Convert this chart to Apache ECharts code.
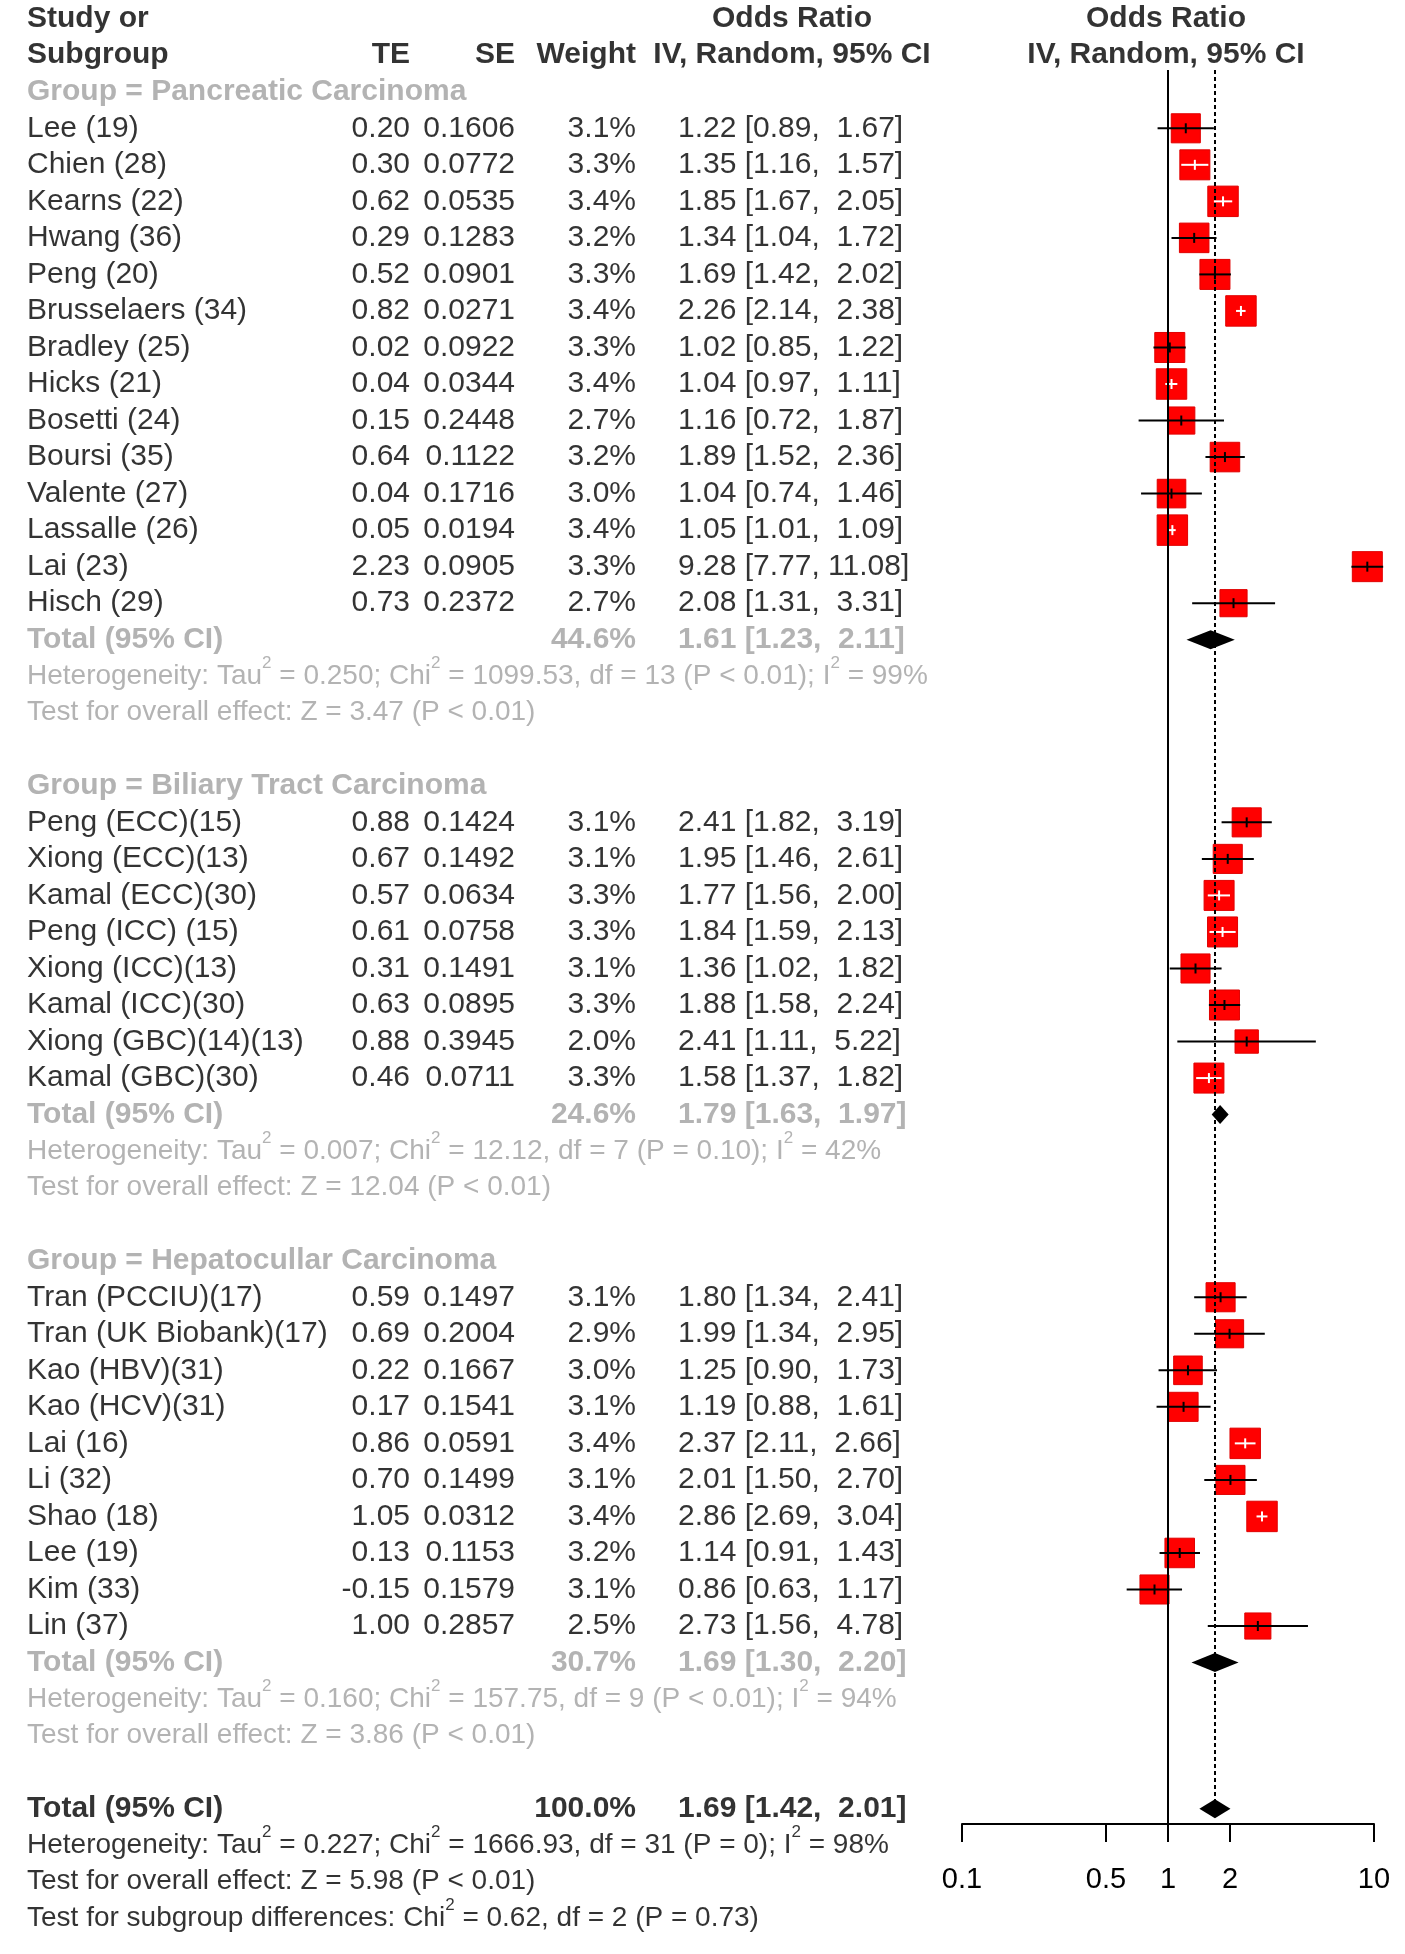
<!DOCTYPE html>
<html><head><meta charset="utf-8">
<script src="https://cdn.jsdelivr.net/npm/echarts@6/dist/echarts.min.js"></script>
<style>html,body{margin:0;padding:0;background:#fff}#c{width:1405px;height:1954px}</style>
</head><body><div id="c"></div>
<script>
// ---------------- data ----------------
const panNames = ['Lee (19)','Chien (28)','Kearns (22)','Hwang (36)','Peng (20)','Brusselaers (34)','Bradley (25)','Hicks (21)','Bosetti (24)','Boursi (35)','Valente (27)','Lassalle (26)','Lai (23)','Hisch (29)'];
const panTE = [0.20,0.30,0.62,0.29,0.52,0.82,0.02,0.04,0.15,0.64,0.04,0.05,2.23,0.73];
const panSE = [0.1606,0.0772,0.0535,0.1283,0.0901,0.0271,0.0922,0.0344,0.2448,0.1122,0.1716,0.0194,0.0905,0.2372];
const panW  = [3.1,3.3,3.4,3.2,3.3,3.4,3.3,3.4,2.7,3.2,3.0,3.4,3.3,2.7];
const panOR = [1.22,1.35,1.85,1.34,1.69,2.26,1.02,1.04,1.16,1.89,1.04,1.05,9.28,2.08];
const panLo = [0.89,1.16,1.67,1.04,1.42,2.14,0.85,0.97,0.72,1.52,0.74,1.01,7.77,1.31];
const panHi = [1.67,1.57,2.05,1.72,2.02,2.38,1.22,1.11,1.87,2.36,1.46,1.09,11.08,3.31];

const bilNames = ['Peng (ECC)(15)','Xiong (ECC)(13)','Kamal (ECC)(30)','Peng (ICC) (15)','Xiong (ICC)(13)','Kamal (ICC)(30)','Xiong (GBC)(14)(13)','Kamal (GBC)(30)'];
const bilTE = [0.88,0.67,0.57,0.61,0.31,0.63,0.88,0.46];
const bilSE = [0.1424,0.1492,0.0634,0.0758,0.1491,0.0895,0.3945,0.0711];
const bilW  = [3.1,3.1,3.3,3.3,3.1,3.3,2.0,3.3];
const bilOR = [2.41,1.95,1.77,1.84,1.36,1.88,2.41,1.58];
const bilLo = [1.82,1.46,1.56,1.59,1.02,1.58,1.11,1.37];
const bilHi = [3.19,2.61,2.00,2.13,1.82,2.24,5.22,1.82];

const hepNames = ['Tran (PCCIU)(17)','Tran (UK Biobank)(17)','Kao (HBV)(31)','Kao (HCV)(31)','Lai (16)','Li (32)','Shao (18)','Lee (19)','Kim (33)','Lin (37)'];
const hepTE = [0.59,0.69,0.22,0.17,0.86,0.70,1.05,0.13,-0.15,1.00];
const hepSE = [0.1497,0.2004,0.1667,0.1541,0.0591,0.1499,0.0312,0.1153,0.1579,0.2857];
const hepW  = [3.1,2.9,3.0,3.1,3.4,3.1,3.4,3.2,3.1,2.5];
const hepOR = [1.80,1.99,1.25,1.19,2.37,2.01,2.86,1.14,0.86,2.73];
const hepLo = [1.34,1.34,0.90,0.88,2.11,1.50,2.69,0.91,0.63,1.56];
const hepHi = [2.41,2.95,1.73,1.61,2.66,2.70,3.04,1.43,1.17,4.78];

const groupLabels = ['Group = Pancreatic Carcinoma','Group = Biliary Tract Carcinoma','Group = Hepatocullar Carcinoma'];
const groupW   = [44.6,24.6,30.7];
const groupOR  = [1.61,1.79,1.69];
const groupLo  = [1.23,1.63,1.30];
const groupHi  = [2.11,1.97,2.20];
const groupTau2 = ['0.250','0.007','0.160'];
const groupChi2 = ['1099.53','12.12','157.75'];
const groupDf   = [13,7,9];
const groupHetP = ['P < 0.01','P = 0.10','P < 0.01'];
const groupI2   = ['99%','42%','94%'];
const groupZ    = ['3.47','12.04','3.86'];
const groupZP   = ['P < 0.01','P < 0.01','P < 0.01'];

const totalW = 100.0, totalOR = 1.69, totalLo = 1.42, totalHi = 2.01;
const totalTau2 = '0.227', totalChi2 = '1666.93', totalDf = 31, totalHetP = 'P = 0', totalI2 = '98%';
const totalZ = '5.98', totalZP = 'P < 0.01';
const subChi2 = '0.62', subDf = 2, subP = 'P = 0.73';

const xTicks = [0.1, 0.5, 1, 2, 10];

// ---------------- layout ----------------
const ROW0 = 18.7, ROWH = 36.53, NROWS = 53;
const PLOT_LEFT = 962, PLOT_W = 412, PLOT_TOP = 70, PLOT_BOTTOM = 1824;
const COL = {study: 27, te: 410, se: 515, w: 636, or: 678, orHead: 792, plotHead: 1166};
const SQ = 30, DH = 19;
const FONT = '"Liberation Sans", Arial, sans-serif';
const GRAY = '#a0a0a0';

const STY = {
  normal:   {color: '#000', fontSize: 30, fontWeight: 'normal'},
  bold:     {color: '#000', fontSize: 30, fontWeight: 'bold'},
  grayBold: {color: GRAY,   fontSize: 30, fontWeight: 'bold'},
  grayHet:  {color: GRAY,   fontSize: 28, fontWeight: 'normal', lineHeight: 42},
  het:      {color: '#000', fontSize: 28, fontWeight: 'normal', lineHeight: 42}
};

const fmtCI = (o, l, h) => o.toFixed(2) + ' [' + l.toFixed(2) + ', ' + h.toFixed(2).padStart(5, ' ') + ']';
const hetStr = (t, c, d, p, i) => 'Heterogeneity: Tau{s|2} = ' + t + '; Chi{s|2} = ' + c + ', df = ' + d + ' (' + p + '); I{s|2} = ' + i;

const texts = [];
const studyPts = [];
const diamondPts = [];
const T = (x, row, text, align, style) => texts.push({x, row, text, align, style});

// header
T(COL.study, 0, 'Study or', 'left', 'bold');
T(COL.orHead, 0, 'Odds Ratio', 'center', 'bold');
T(COL.plotHead, 0, 'Odds Ratio', 'center', 'bold');
T(COL.study, 1, 'Subgroup', 'left', 'bold');
T(COL.te, 1, 'TE', 'right', 'bold');
T(COL.se, 1, 'SE', 'right', 'bold');
T(COL.w, 1, 'Weight', 'right', 'bold');
T(COL.orHead, 1, 'IV, Random, 95% CI', 'center', 'bold');
T(COL.plotHead, 1, 'IV, Random, 95% CI', 'center', 'bold');

const groups = [
  [panNames, panTE, panSE, panW, panOR, panLo, panHi],
  [bilNames, bilTE, bilSE, bilW, bilOR, bilLo, bilHi],
  [hepNames, hepTE, hepSE, hepW, hepOR, hepLo, hepHi]
];
let row = 2;
groups.forEach((g, gi) => {
  T(COL.study, row, groupLabels[gi], 'left', 'grayBold'); row++;
  g[0].forEach((name, i) => {
    T(COL.study, row, name, 'left', 'normal');
    T(COL.te, row, g[1][i].toFixed(2), 'right', 'normal');
    T(COL.se, row, g[2][i].toFixed(4), 'right', 'normal');
    T(COL.w, row, g[3][i].toFixed(1) + '%', 'right', 'normal');
    T(COL.or, row, fmtCI(g[4][i], g[5][i], g[6][i]), 'left', 'normal');
    studyPts.push([g[4][i], row, g[5][i], g[6][i], g[3][i]]);
    row++;
  });
  T(COL.study, row, 'Total (95% CI)', 'left', 'grayBold');
  T(COL.w, row, groupW[gi].toFixed(1) + '%', 'right', 'grayBold');
  T(COL.or, row, fmtCI(groupOR[gi], groupLo[gi], groupHi[gi]), 'left', 'grayBold');
  diamondPts.push([groupOR[gi], row, groupLo[gi], groupHi[gi]]);
  row++;
  T(COL.study, row, hetStr(groupTau2[gi], groupChi2[gi], groupDf[gi], groupHetP[gi], groupI2[gi]), 'left', 'grayHet'); row++;
  T(COL.study, row, 'Test for overall effect: Z = ' + groupZ[gi] + ' (' + groupZP[gi] + ')', 'left', 'grayHet'); row++;
  row++;
});
const overallRow = row;
T(COL.study, row, 'Total (95% CI)', 'left', 'bold');
T(COL.w, row, totalW.toFixed(1) + '%', 'right', 'bold');
T(COL.or, row, fmtCI(totalOR, totalLo, totalHi), 'left', 'bold');
diamondPts.push([totalOR, row, totalLo, totalHi]);
row++;
T(COL.study, row, hetStr(totalTau2, totalChi2, totalDf, totalHetP, totalI2), 'left', 'het'); row++;
T(COL.study, row, 'Test for overall effect: Z = ' + totalZ + ' (' + totalZP + ')', 'left', 'het'); row++;
T(COL.study, row, 'Test for subgroup differences: Chi{s|2} = ' + subChi2 + ', df = ' + subDf + ' (' + subP + ')', 'left', 'het');

// ---------------- chart ----------------
const chart = echarts.init(document.getElementById('c'), null, {renderer: 'canvas'});

const textData = texts.map(t => {
  const st = STY[t.style];
  const pos = t.align === 'left' ? 'right' : (t.align === 'right' ? 'left' : 'inside');
  const lbl = {
    show: true, formatter: t.text, position: pos, distance: 0,
    align: t.align, verticalAlign: 'middle',
    color: st.color, fontSize: st.fontSize, fontWeight: st.fontWeight, fontFamily: FONT,
    rich: {s: {fontSize: Math.round(st.fontSize * 0.62), verticalAlign: 'top', lineHeight: 12,
               color: st.color, fontFamily: FONT, fontWeight: st.fontWeight}}
  };
  if (st.lineHeight) lbl.lineHeight = st.lineHeight;
  return {value: [t.x, t.row], label: lbl};
});

const yMin1 = (PLOT_TOP - ROW0) / ROWH;
const yMax1 = (PLOT_BOTTOM - ROW0) / ROWH;

const option = {
  animation: false,
  backgroundColor: '#fff',
  grid: [
    {left: 0, top: ROW0 - ROWH / 2, width: 1405, height: NROWS * ROWH},
    {left: PLOT_LEFT, top: PLOT_TOP, width: PLOT_W, height: PLOT_BOTTOM - PLOT_TOP}
  ],
  xAxis: [
    {gridIndex: 0, type: 'value', min: 0, max: 1405, show: false},
    {gridIndex: 1, type: 'log', logBase: 10, min: 0.1, max: 10, position: 'bottom',
     axisLine: {show: true, onZero: false, lineStyle: {color: '#000', width: 2}},
     axisTick: {show: true, inside: false, length: 18, customValues: xTicks, lineStyle: {color: '#000', width: 2}},
     axisLabel: {show: true, customValues: xTicks, margin: 41, color: '#000', fontSize: 29, fontFamily: FONT,
                 formatter: v => String(v)},
     splitLine: {show: false}, minorTick: {show: false}}
  ],
  yAxis: [
    {gridIndex: 0, type: 'value', min: -0.5, max: NROWS - 0.5, inverse: true, show: false},
    {gridIndex: 1, type: 'value', min: yMin1, max: yMax1, inverse: true, show: false}
  ],
  series: [
    {
      type: 'scatter', xAxisIndex: 0, yAxisIndex: 0, silent: true,
      symbolSize: 0, itemStyle: {color: 'transparent'},
      data: textData, z: 5
    },
    {
      type: 'line', xAxisIndex: 1, yAxisIndex: 1, data: [], silent: true,
      markLine: {
        silent: true, symbol: 'none', label: {show: false}, animation: false,
        data: [
          {xAxis: 1, lineStyle: {color: '#000', width: 2, type: 'solid'}},
          [{coord: [totalOR, yMin1], lineStyle: {color: '#000', width: 2, type: [4, 3]}},
           {coord: [totalOR, overallRow]}]
        ]
      }
    },
    {
      type: 'custom', xAxisIndex: 1, yAxisIndex: 1, clip: false, silent: true, z: 3,
      encode: {x: 0, y: 1},
      data: studyPts,
      renderItem: (params, api) => {
        const c = api.coord([api.value(0), api.value(1)]);
        const l = api.coord([api.value(2), api.value(1)])[0];
        const h = api.coord([api.value(3), api.value(1)])[0];
        const s = SQ * Math.sqrt(api.value(4) / 3.3);
        const inside = l >= c[0] - s / 2 && h <= c[0] + s / 2;
        const col = inside ? '#fff' : '#000';
        return {type: 'group', children: [
          {type: 'rect', shape: {x: c[0] - s / 2, y: c[1] - s / 2, width: s, height: s},
           style: {fill: '#f00', stroke: '#e00000', lineWidth: 1}},
          {type: 'line', shape: {x1: l, y1: c[1], x2: h, y2: c[1]}, style: {stroke: col, lineWidth: 2}},
          {type: 'line', shape: {x1: c[0], y1: c[1] - 5, x2: c[0], y2: c[1] + 5}, style: {stroke: col, lineWidth: 2}}
        ]};
      }
    },
    {
      type: 'custom', xAxisIndex: 1, yAxisIndex: 1, clip: false, silent: true, z: 4,
      encode: {x: 0, y: 1},
      data: diamondPts,
      renderItem: (params, api) => {
        const c = api.coord([api.value(0), api.value(1)]);
        const l = api.coord([api.value(2), api.value(1)])[0];
        const h = api.coord([api.value(3), api.value(1)])[0];
        return {type: 'polygon', shape: {points: [[l, c[1]], [c[0], c[1] - DH / 2], [h, c[1]], [c[0], c[1] + DH / 2]]},
                style: {fill: '#000'}};
      }
    }
  ]
};
chart.setOption(option);
</script>
</body></html>
